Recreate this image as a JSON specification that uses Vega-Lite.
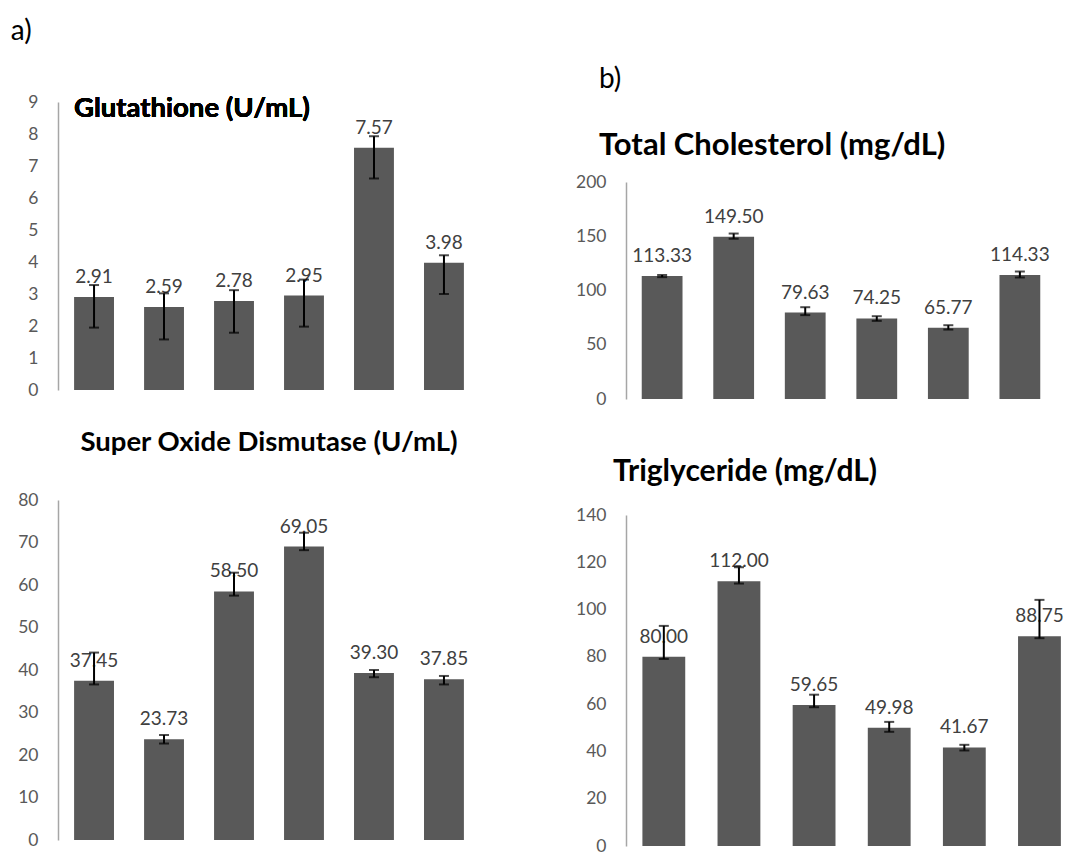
{
  "$schema": "https://vega.github.io/schema/vega-lite/v6.json",
  "background": "white",
  "padding": {"left": 10, "top": 18, "right": 0, "bottom": 0},
  "config": {
    "view": {"stroke": null},
    "font": "Lato",
    "axisY": {"domainColor": "#a6a6a6", "domainWidth": 1.5, "ticks": false, "grid": false, "labelColor": "#595959", "labelFontSize": 17.5, "labelPadding": 20, "labelFont": "Lato", "labelOverlap": false, "title": null},
    "title": {"font": "Lato", "color": "#000000"}
  },
  "datasets": {
    "d": [
      {"p": "GSH", "g": 1, "v": 2.91, "lo": 1.95, "hi": 3.28},
      {"p": "GSH", "g": 2, "v": 2.59, "lo": 1.58, "hi": 3.02},
      {"p": "GSH", "g": 3, "v": 2.78, "lo": 1.79, "hi": 3.12},
      {"p": "GSH", "g": 4, "v": 2.95, "lo": 1.98, "hi": 3.45},
      {"p": "GSH", "g": 5, "v": 7.57, "lo": 6.61, "hi": 7.93},
      {"p": "GSH", "g": 6, "v": 3.98, "lo": 3.0, "hi": 4.21},
      {"p": "SOD", "g": 1, "v": 37.45, "lo": 36.6, "hi": 44.1},
      {"p": "SOD", "g": 2, "v": 23.73, "lo": 22.7, "hi": 24.7},
      {"p": "SOD", "g": 3, "v": 58.5, "lo": 57.5, "hi": 62.9},
      {"p": "SOD", "g": 4, "v": 69.05, "lo": 68.2, "hi": 72.3},
      {"p": "SOD", "g": 5, "v": 39.3, "lo": 38.3, "hi": 40.0},
      {"p": "SOD", "g": 6, "v": 37.85, "lo": 36.6, "hi": 38.6},
      {"p": "TC", "g": 1, "v": 113.33, "lo": 112.3, "hi": 114.3},
      {"p": "TC", "g": 2, "v": 149.5, "lo": 147.7, "hi": 152.5},
      {"p": "TC", "g": 3, "v": 79.63, "lo": 77.3, "hi": 84.6},
      {"p": "TC", "g": 4, "v": 74.25, "lo": 72.0, "hi": 76.3},
      {"p": "TC", "g": 5, "v": 65.77, "lo": 64.0, "hi": 68.0},
      {"p": "TC", "g": 6, "v": 114.33, "lo": 112.0, "hi": 117.5},
      {"p": "TG", "g": 1, "v": 80.0, "lo": 79.1, "hi": 93.1},
      {"p": "TG", "g": 2, "v": 112.0, "lo": 111.0, "hi": 117.9},
      {"p": "TG", "g": 3, "v": 59.65, "lo": 58.7, "hi": 64.0},
      {"p": "TG", "g": 4, "v": 49.98, "lo": 48.3, "hi": 52.5},
      {"p": "TG", "g": 5, "v": 41.67, "lo": 40.4, "hi": 42.8},
      {"p": "TG", "g": 6, "v": 88.75, "lo": 87.9, "hi": 104.1}
    ]
  },
  "columns": 2,
  "spacing": {"column": 95, "row": 0},
  "concat": [
    {
      "spacing": -42,
      "vconcat": [
        {
          "width": 422, "height": 208,
          "title": {"text": "a)", "anchor": "start", "frame": "bounds", "fontSize": 28, "fontWeight": "normal", "offset": 47, "dx": -17},
          "data": {"name": "d"},
          "transform": [{"filter": "datum.p == 'GSH'"}],
          "encoding": {"x": {"field": "g", "type": "ordinal", "axis": null, "scale": {"paddingInner": 0.43, "paddingOuter": 0.23}}},
          "layer": [
            {"mark": {"type": "bar", "color": "#595959"}, "encoding": {"y": {"field": "v", "type": "quantitative", "title": null, "scale": {"domain": [0, 9], "nice": false, "range": [208, -80]}, "axis": {"values": [0, 1, 2, 3, 4, 5, 6, 7, 8, 9]}}}},
            {"mark": {"type": "text", "dy": -14, "baseline": "alphabetic", "fontSize": 19, "color": "#404040", "font": "Lato"}, "encoding": {"y": {"field": "v", "type": "quantitative", "title": null, "axis": {"values": [0, 1, 2, 3, 4, 5, 6, 7, 8, 9]}}, "text": {"field": "v", "type": "quantitative", "format": ".2f"}}},
            {"mark": {"type": "rule", "color": "#000000", "strokeWidth": 2}, "encoding": {"y": {"field": "lo", "type": "quantitative", "title": null, "axis": {"values": [0, 1, 2, 3, 4, 5, 6, 7, 8, 9]}}, "y2": {"field": "hi"}}},
            {"mark": {"type": "tick", "color": "#000000", "thickness": 2, "size": 10}, "encoding": {"y": {"field": "lo", "type": "quantitative", "title": null, "axis": {"values": [0, 1, 2, 3, 4, 5, 6, 7, 8, 9]}}}},
            {"mark": {"type": "tick", "color": "#000000", "thickness": 2, "size": 10}, "encoding": {"y": {"field": "hi", "type": "quantitative", "title": null, "axis": {"values": [0, 1, 2, 3, 4, 5, 6, 7, 8, 9]}}}},
            {"mark": {"type": "text", "align": "left", "baseline": "alphabetic", "fontSize": 27.5, "fontWeight": "bold", "color": "#000000", "font": "Lato"}, "encoding": {"x": {"datum": 1, "type": "ordinal", "bandPosition": 0}, "y": {"datum": 8.52, "type": "quantitative", "axis": {"values": [0, 1, 2, 3, 4, 5, 6, 7, 8, 9]}}, "text": {"value": "Glutathione (U/mL)"}}}
          ]
        },
        {
          "width": 422, "height": 340,
          "title": {"text": "Super Oxide Dismutase (U/mL)", "anchor": "middle", "frame": "group", "offset": 35, "fontSize": 27.5, "fontWeight": "bold"},
          "data": {"name": "d"},
          "transform": [{"filter": "datum.p == 'SOD'"}],
          "encoding": {"x": {"field": "g", "type": "ordinal", "axis": null, "scale": {"paddingInner": 0.43, "paddingOuter": 0.23}}},
          "layer": [
            {"mark": {"type": "bar", "color": "#595959"}, "encoding": {"y": {"field": "v", "type": "quantitative", "title": null, "scale": {"domain": [0, 80], "nice": false}, "axis": {"values": [0, 10, 20, 30, 40, 50, 60, 70, 80]}}}},
            {"mark": {"type": "text", "dy": -14, "baseline": "alphabetic", "fontSize": 19, "color": "#404040", "font": "Lato"}, "encoding": {"y": {"field": "v", "type": "quantitative", "title": null, "axis": {"values": [0, 10, 20, 30, 40, 50, 60, 70, 80]}}, "text": {"field": "v", "type": "quantitative", "format": ".2f"}}},
            {"mark": {"type": "rule", "color": "#000000", "strokeWidth": 2}, "encoding": {"y": {"field": "lo", "type": "quantitative", "title": null, "axis": {"values": [0, 10, 20, 30, 40, 50, 60, 70, 80]}}, "y2": {"field": "hi"}}},
            {"mark": {"type": "tick", "color": "#000000", "thickness": 2, "size": 10}, "encoding": {"y": {"field": "lo", "type": "quantitative", "title": null, "axis": {"values": [0, 10, 20, 30, 40, 50, 60, 70, 80]}}}},
            {"mark": {"type": "tick", "color": "#000000", "thickness": 2, "size": 10}, "encoding": {"y": {"field": "hi", "type": "quantitative", "title": null, "axis": {"values": [0, 10, 20, 30, 40, 50, 60, 70, 80]}}}}
          ]
        }
      ]
    },
    {
      "spacing": 49,
      "vconcat": [
        {
          "width": 430, "height": 217,
          "title": {"text": ["\u00a0", "b)"], "lineHeight": 46, "fontSize": 28, "fontWeight": "normal", "subtitle": "Total Cholesterol (mg/dL)", "subtitleFont": "Lato", "subtitleFontSize": 31, "subtitleFontWeight": "bold", "subtitleColor": "#000000", "subtitlePadding": 37, "anchor": "start", "frame": "group", "dx": -27, "offset": 12},
          "data": {"name": "d"},
          "transform": [{"filter": "datum.p == 'TC'"}],
          "encoding": {"x": {"field": "g", "type": "ordinal", "axis": null, "scale": {"paddingInner": 0.43, "paddingOuter": 0.22}}},
          "layer": [
            {"mark": {"type": "bar", "color": "#595959"}, "encoding": {"y": {"field": "v", "type": "quantitative", "title": null, "scale": {"domain": [0, 200], "nice": false}, "axis": {"values": [0, 50, 100, 150, 200]}}}},
            {"mark": {"type": "text", "dy": -14, "baseline": "alphabetic", "fontSize": 19, "color": "#404040", "font": "Lato"}, "encoding": {"y": {"field": "v", "type": "quantitative", "title": null, "axis": {"values": [0, 50, 100, 150, 200]}}, "text": {"field": "v", "type": "quantitative", "format": ".2f"}}},
            {"mark": {"type": "rule", "color": "#000000", "strokeWidth": 2}, "encoding": {"y": {"field": "lo", "type": "quantitative", "title": null, "axis": {"values": [0, 50, 100, 150, 200]}}, "y2": {"field": "hi"}}},
            {"mark": {"type": "tick", "color": "#000000", "thickness": 2, "size": 10}, "encoding": {"y": {"field": "lo", "type": "quantitative", "title": null, "axis": {"values": [0, 50, 100, 150, 200]}}}},
            {"mark": {"type": "tick", "color": "#000000", "thickness": 2, "size": 10}, "encoding": {"y": {"field": "hi", "type": "quantitative", "title": null, "axis": {"values": [0, 50, 100, 150, 200]}}}}
          ]
        },
        {
          "width": 438, "height": 331,
          "title": {"text": "Triglyceride (mg/dL)", "anchor": "start", "frame": "group", "dx": -13, "offset": 19, "fontSize": 30, "fontWeight": "bold"},
          "data": {"name": "d"},
          "transform": [{"filter": "datum.p == 'TG'"}],
          "encoding": {"x": {"field": "g", "type": "ordinal", "axis": null, "scale": {"paddingInner": 0.43, "paddingOuter": 0.13, "align": 0.84}}},
          "layer": [
            {"mark": {"type": "bar", "color": "#595959"}, "encoding": {"y": {"field": "v", "type": "quantitative", "title": null, "scale": {"domain": [0, 140], "nice": false}, "axis": {"values": [0, 20, 40, 60, 80, 100, 120, 140]}}}},
            {"mark": {"type": "text", "dy": -14, "baseline": "alphabetic", "fontSize": 19, "color": "#404040", "font": "Lato"}, "encoding": {"y": {"field": "v", "type": "quantitative", "title": null, "axis": {"values": [0, 20, 40, 60, 80, 100, 120, 140]}}, "text": {"field": "v", "type": "quantitative", "format": ".2f"}}},
            {"mark": {"type": "rule", "color": "#000000", "strokeWidth": 2}, "encoding": {"y": {"field": "lo", "type": "quantitative", "title": null, "axis": {"values": [0, 20, 40, 60, 80, 100, 120, 140]}}, "y2": {"field": "hi"}}},
            {"mark": {"type": "tick", "color": "#000000", "thickness": 2, "size": 10}, "encoding": {"y": {"field": "lo", "type": "quantitative", "title": null, "axis": {"values": [0, 20, 40, 60, 80, 100, 120, 140]}}}},
            {"mark": {"type": "tick", "color": "#000000", "thickness": 2, "size": 10}, "encoding": {"y": {"field": "hi", "type": "quantitative", "title": null, "axis": {"values": [0, 20, 40, 60, 80, 100, 120, 140]}}}}
          ]
        }
      ]
    }
  ]
}
